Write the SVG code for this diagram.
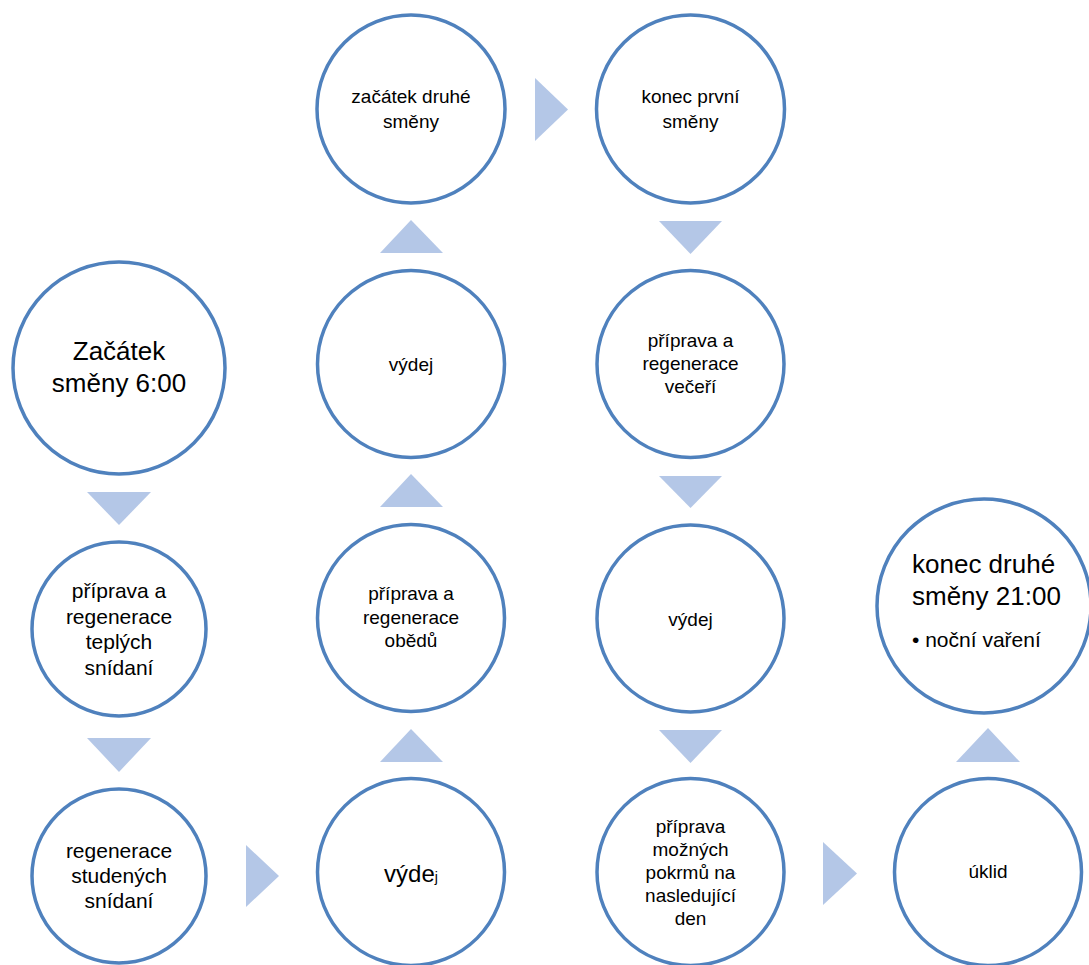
<svg xmlns="http://www.w3.org/2000/svg" width="1089" height="965" viewBox="0 0 1089 965">
<style>
.c{fill:#fff;stroke:#4F81BD;stroke-width:3.5}
.a{fill:#B4C7E7}
text{font-family:"Liberation Sans",Arial,sans-serif;fill:#000;text-anchor:middle}
.s19{font-size:19px}
.s21{font-size:21px}
.s26{font-size:26px}
</style>
<rect width="1089" height="965" fill="#fff"/>
<g id="connectors">
<polygon class="a" points="87,492 151,492 119,525"/>
<polygon class="a" points="87,738 151,738 119,772"/>
<polygon class="a" points="246,845 246,907 279,876"/>
<polygon class="a" points="380,762 443,762 411,729"/>
<polygon class="a" points="380,507 443,507 411,474"/>
<polygon class="a" points="380,253 443,253 411,220"/>
<polygon class="a" points="535,78 535,141 568,109.5"/>
<polygon class="a" points="659,221 722,221 690.5,254"/>
<polygon class="a" points="659,476 722,476 690.5,508"/>
<polygon class="a" points="659,730 722,730 690.5,763"/>
<polygon class="a" points="823,842 823,905 857,873.5"/>
<polygon class="a" points="956,762 1020,762 988,728"/>
</g>
<g id="n1"><circle class="c" cx="119" cy="368" r="106"/><text class="s26" x="119" y="360">Začátek</text><text class="s26" x="119" y="392">směny 6:00</text></g>
<g id="n2"><circle class="c" cx="119" cy="629" r="87"/><text class="s21" x="119" y="598">příprava a</text><text class="s21" x="119" y="623.5">regenerace</text><text class="s21" x="119" y="649">teplých</text><text class="s21" x="119" y="674.5">snídaní</text></g>
<g id="n3"><circle class="c" cx="119" cy="876" r="87"/><text class="s21" x="119" y="858">regenerace</text><text class="s21" x="119" y="883">studených</text><text class="s21" x="119" y="908">snídaní</text></g>
<g id="n4"><circle class="c" cx="411" cy="872" r="93.5"/><text x="411" y="882"><tspan font-size="24">výde</tspan><tspan font-size="14">j</tspan></text></g>
<g id="n5"><circle class="c" cx="411" cy="618" r="93.5"/><text class="s19" x="411" y="600">příprava a</text><text class="s19" x="411" y="623.5">regenerace</text><text class="s19" x="411" y="647">obědů</text></g>
<g id="n6"><circle class="c" cx="411" cy="364" r="93.5"/><text class="s19" x="411" y="371">výdej</text></g>
<g id="n7"><circle class="c" cx="411" cy="109" r="94"/><text class="s19" x="411" y="103">začátek druhé</text><text class="s19" x="411" y="128">směny</text></g>
<g id="n8"><circle class="c" cx="690.5" cy="109" r="94"/><text class="s19" x="690.5" y="103">konec první</text><text class="s19" x="690.5" y="128">směny</text></g>
<g id="n9"><circle class="c" cx="690.5" cy="364" r="93.5"/><text class="s19" x="690.5" y="347">příprava a</text><text class="s19" x="690.5" y="370">regenerace</text><text class="s19" x="690.5" y="393">večeří</text></g>
<g id="n10"><circle class="c" cx="690.5" cy="618.5" r="93.5"/><text class="s19" x="690.5" y="626">výdej</text></g>
<g id="n11"><circle class="c" cx="690.5" cy="872" r="93.5"/><text class="s19" x="690.5" y="833">příprava</text><text class="s19" x="690.5" y="856">možných</text><text class="s19" x="690.5" y="879">pokrmů na</text><text class="s19" x="690.5" y="902">nasledující</text><text class="s19" x="690.5" y="925">den</text></g>
<g id="n12"><circle class="c" cx="988" cy="872" r="93.5"/><text class="s19" x="988" y="878">úklid</text></g>
<g id="n13"><circle class="c" cx="984" cy="606" r="107"/><text class="s26" x="912" y="573" text-anchor="start" style="text-anchor:start">konec druhé</text><text class="s26" x="912" y="605" style="text-anchor:start">směny 21:00</text><text class="s21" x="912" y="647" style="text-anchor:start">• noční vaření</text></g>
</svg>
